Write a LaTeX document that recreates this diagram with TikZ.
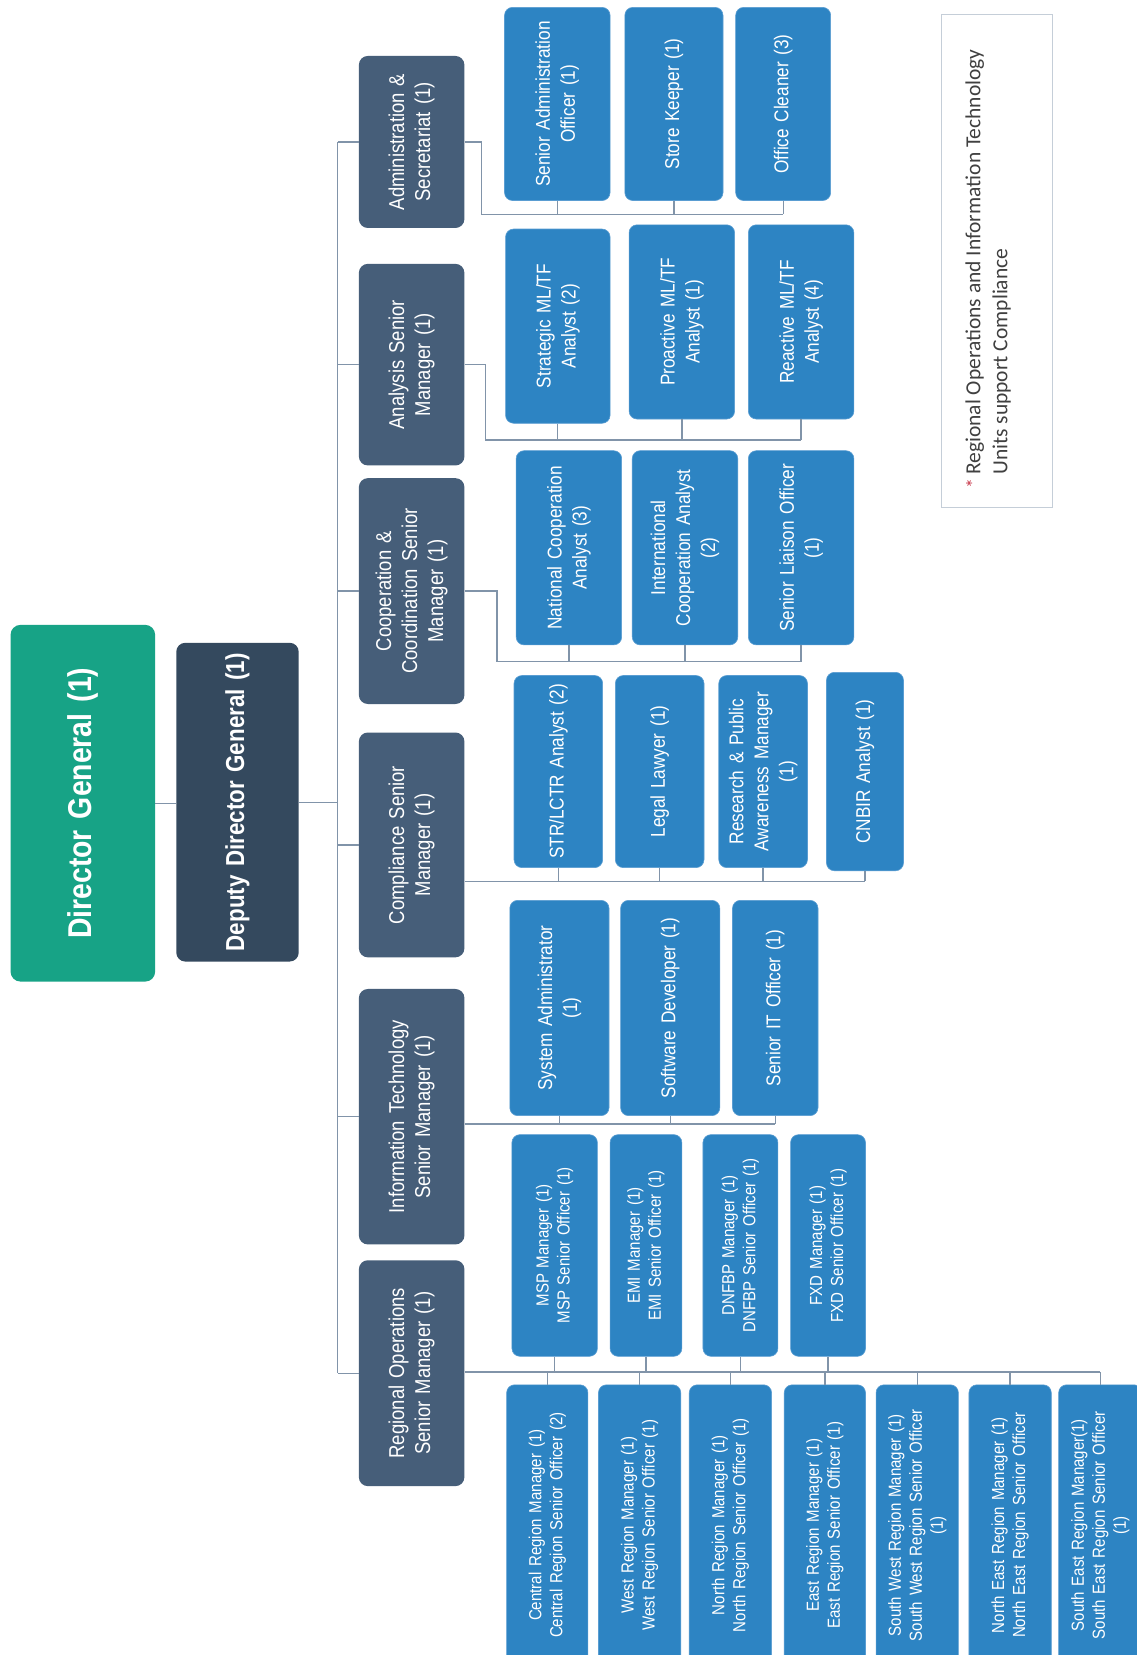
\documentclass[tikz,border=0pt]{standalone}
\usepackage{fontspec}
\setmainfont{Liberation Sans}[FakeStretch=0.86,WordSpace=0.86]
\newfontfamily\legfont{Carlito}
\definecolor{dgC}{HTML}{17A386}
\definecolor{ddgC}{HTML}{34495E}
\definecolor{mgrC}{HTML}{465E79}
\definecolor{kidC}{HTML}{2D84C3}
\definecolor{kidE}{HTML}{5A9DD2}
\definecolor{lineC}{HTML}{8194A9}
\definecolor{legC}{HTML}{C5CED8}
\definecolor{legT}{HTML}{404040}
\definecolor{astC}{HTML}{C8384A}
\newcommand\bx[7]{%
  \pgfmathsetmacro\bxw{(#6-#4)*1.0557}%
  \pgfmathsetmacro\bxh{(#5-#3)*1.0557}%
  \pgfmathsetmacro\bxt{\bxw-6}%
  \node[#1, minimum width=\bxw pt, minimum height=\bxh pt, text width=\bxt pt] (#2) at ({(#3+#5)/2},{(#4+#6)/2}) {#7};}
\tikzset{
  conn/.style={draw=lineC, line width=1.3pt},
  base/.style={rotate=90, inner sep=0pt, align=center, text=white},
  dgbox/.style={base, fill=dgC, rounded corners=10pt, font=\fontsize{33}{38}\selectfont\bfseries},
  ddgbox/.style={base, fill=ddgC, rounded corners=9pt, font=\fontsize{26}{30}\selectfont\bfseries},
  mgrbox/.style={base, fill=mgrC, rounded corners=9pt, font=\fontsize{21.5}{26}\selectfont},
  kidbox/.style={base, fill=kidC, draw=kidE, line width=0.6pt, rounded corners=8pt, font=\fontsize{20}{25}\selectfont},
  regbox/.style={base, fill=kidC, draw=kidE, line width=0.6pt, rounded corners=8pt, font=\fontsize{17.5}{21}\selectfont},
  legbox/.style={rotate=90, inner sep=0pt, draw=legC, fill=white, line width=0.9pt},
}
\begin{document}
\begin{tikzpicture}[x=1.0557pt,y=-1.0557pt]
\useasboundingbox (0,0) rectangle (1077,1568);
\clip (0,0) rectangle (1077,1568);
\fill[white] (0,0) rectangle (1077,1568);

% top
\bx{dgbox}{dg}{10}{592}{147}{930}{Director General (1)}
\bx{ddgbox}{ddg}{167}{609}{283}{911}{Deputy Director General (1)}

% managers
\bx{mgrbox}{adm}{340}{53}{440}{216}{Administration \&\\Secretariat (1)}
\bx{mgrbox}{ana}{340}{250}{440}{441}{Analysis Senior\\Manager (1)}
\bx{mgrbox}{coo}{340}{453}{440}{667}{Cooperation \&\\Coordination Senior\\Manager (1)}
\bx{mgrbox}{cmp}{340}{694}{440}{907}{Compliance Senior\\Manager (1)}
\bx{mgrbox}{it}{340}{937}{440}{1179}{Information Technology\\Senior Manager (1)}
\bx{mgrbox}{reg}{340}{1194}{440}{1408}{Regional Operations\\Senior Manager (1)}

% admin
\bx{kidbox}{sao}{478}{7}{578}{190}{Senior Administration\\Officer (1)}
\bx{kidbox}{sk}{592}{7}{685}{190}{Store Keeper (1)}
\bx{kidbox}{oc}{697}{7}{787}{190}{Office Cleaner (3)}
% analysis
\bx{kidbox}{stm}{479}{217}{578}{401}{Strategic ML/TF\\Analyst (2)}
\bx{kidbox}{prm}{596}{213}{696}{397}{Proactive ML/TF\\Analyst (1)}
\bx{kidbox}{rem}{709}{213}{809}{397}{Reactive ML/TF\\Analyst (4)}
% cooperation
\bx{kidbox}{nca}{489}{427}{589}{611}{National Cooperation\\Analyst (3)}
\bx{kidbox}{ica}{599}{427}{699}{611}{International\\Cooperation Analyst\\(2)}
\bx{kidbox}{slo}{709}{427}{809}{611}{Senior Liaison Officer\\(1)}
% compliance
\bx{kidbox}{str}{487}{640}{571}{822}{STR/LCTR Analyst (2)}
\bx{kidbox}{lgl}{583}{640}{667}{822}{Legal Lawyer (1)}
\bx{kidbox}{rpa}{681}{640}{765}{822}{Research \& Public\\Awareness Manager\\(1)}
\bx{kidbox}{cnb}{783}{637}{856}{825}{CNBIR Analyst (1)}
% IT
\bx{kidbox}{sys}{483}{853}{577}{1057}{System Administrator\\(1)}
\bx{kidbox}{swd}{588}{853}{682}{1057}{Software Developer (1)}
\bx{kidbox}{sit}{694}{853}{775}{1057}{Senior IT Officer (1)}
% regional upper
\bx{regbox}{msp}{485}{1075}{566}{1285}{MSP Manager (1)\\MSP Senior Officer (1)}
\bx{regbox}{emi}{578}{1075}{646}{1285}{EMI Manager (1)\\EMI Senior Officer (1)}
\bx{regbox}{dnf}{666}{1075}{737}{1285}{DNFBP Manager (1)\\DNFBP Senior Officer (1)}
\bx{regbox}{fxd}{749}{1075}{820}{1285}{FXD Manager (1)\\FXD Senior Officer (1)}
% regional lower
\bx{regbox}{cen}{480}{1312}{557}{1578}{Central Region Manager (1)\\Central Region Senior Officer (2)}
\bx{regbox}{wst}{567}{1312}{645}{1578}{West Region Manager (1)\\West Region Senior Officer (1)}
\bx{regbox}{nth}{653}{1312}{731}{1578}{North Region Manager (1)\\North Region Senior Officer (1)}
\bx{regbox}{est}{743}{1312}{820}{1578}{East Region Manager (1)\\East Region Senior Officer (1)}
\bx{regbox}{swr}{830}{1312}{908}{1578}{South West Region Manager (1)\\South West Region Senior Officer\\(1)}
\bx{regbox}{ner}{918}{1312}{996}{1578}{North East Region Manager (1)\\North East Region Senior Officer}
\bx{regbox}{ser}{1003}{1312}{1082}{1578}{South East Region Manager(1)\\South East Region Senior Officer\\(1)}

% legend
\bx{legbox}{leg}{892}{14}{997}{481}{}
\node[rotate=90, anchor=west, align=left, inner sep=0pt, text=legT,
      font=\legfont\fontsize{21.5}{27}\selectfont] (legt) at (936.3,450)
  {\llap{\textcolor{astC}{\fontsize{20}{20}\selectfont *}\,}Regional Operations and Information Technology\\Units support Compliance};

% connectors
\coordinate (sp) at (320,761);
\draw[conn] (dg.south) -- (dg.south -| ddg.north);
\draw[conn] (ddg.south) -- (ddg.south -| sp);
\draw[conn] (sp |- adm.north) -- (sp |- reg.north);
\foreach \m in {adm,ana,coo,cmp,it,reg}
  \draw[conn] (sp |- \m.north) -- (\m.north);

\coordinate (admB) at (456,203);
\draw[conn] (adm.south) -| (admB) -- (admB -| oc.west);
\foreach \c in {sao,sk,oc} \draw[conn] (\c.west) -- (\c.west |- admB);

\coordinate (anaB) at (460,417);
\draw[conn] (ana.south) -| (anaB) -- (anaB -| rem.west);
\foreach \c in {stm,prm,rem} \draw[conn] (\c.west) -- (\c.west |- anaB);

\coordinate (cooB) at (471,627);
\draw[conn] (coo.south) -| (cooB) -- (cooB -| slo.west);
\foreach \c in {nca,ica,slo} \draw[conn] (\c.west) -- (\c.west |- cooB);

\coordinate (cmpB) at (450,835);
\draw[conn] (cmp.south |- cmpB) -- (cmpB -| cnb.west);
\foreach \c in {str,lgl,rpa,cnb} \draw[conn] (\c.west) -- (\c.west |- cmpB);

\coordinate (itB) at (450,1065);
\draw[conn] (it.south |- itB) -- (itB -| sit.west);
\foreach \c in {sys,swd,sit} \draw[conn] (\c.west) -- (\c.west |- itB);

\coordinate (regB) at (450,1300);
\draw[conn] (reg.south |- regB) -- (regB -| ser.east);
\foreach \c in {msp,emi,dnf,fxd} \draw[conn] (\c.west) -- (\c.west |- regB);
\foreach \c in {cen,wst,nth,est,swr,ner,ser} \draw[conn] (\c.east) -- (\c.east |- regB);
\end{tikzpicture}
\end{document}
